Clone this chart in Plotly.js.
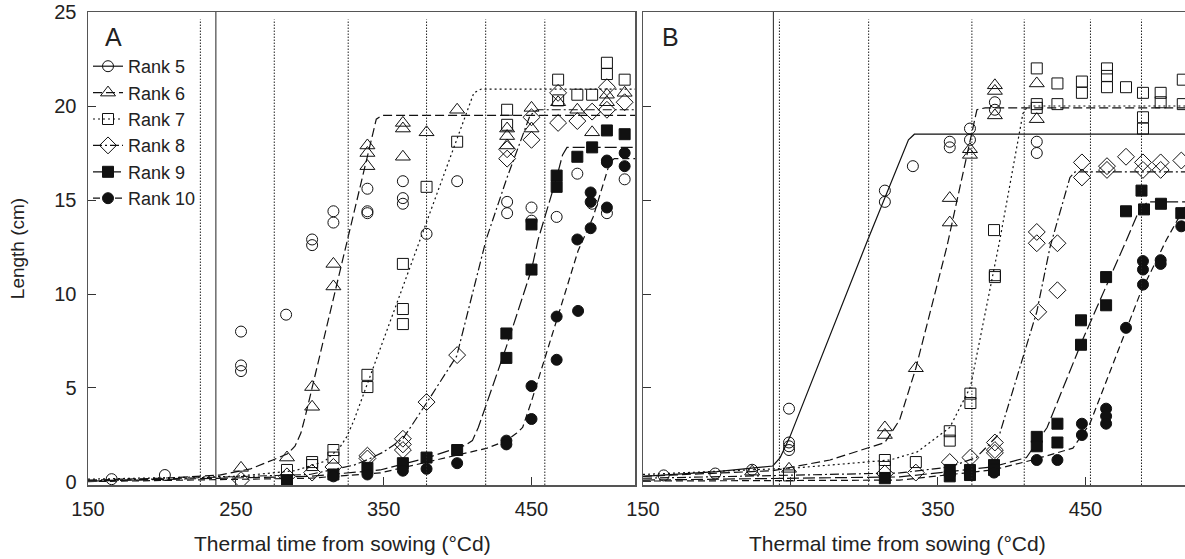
<!DOCTYPE html>
<html>
<head>
<meta charset="utf-8">
<script src="https://cdn.plot.ly/plotly-3.0.1.min.js"></script>
<style>html,body{margin:0;padding:0;background:#fff;}#chart{width:1185px;height:559px;}</style>
</head>
<body>
<div id="chart"></div>
<script>
// ---------- Data ----------
const rankNames = ['Rank 5','Rank 6','Rank 7','Rank 8','Rank 9','Rank 10'];
const xTicks = [150, 250, 350, 450];
const yTicks = [0, 5, 10, 15, 20, 25];
const xTitle = 'Thermal time from sowing (°Cd)';
const yTitle = 'Length (cm)';

// Panel A observations
const A5x = [166,202,253.5,253.5,253.5,284,301.6,301.6,316,316,339,339,339,363,363,363,379,399.7,433.5,433.5,450,450,467,481,491,501,513];
const A5y = [0.15,0.37,8.0,6.2,5.9,8.9,12.9,12.6,14.4,13.8,15.6,14.4,14.3,16.0,15.1,14.8,13.2,16.0,14.9,14.3,14.6,13.9,14.1,16.4,14.8,14.3,16.1];
const A6x = [253.5,284.6,301.6,301.6,316,316,339,339,339,363,363,363,379,399.7,433.5,433.5,433.5,450,450,468,481,491,501,501,513];
const A6y = [0.75,1.3,5.05,4.0,11.6,10.4,17.9,17.5,16.8,19.1,18.8,17.3,18.6,19.8,18.8,18.4,17.9,19.9,18.8,20.2,19.8,18.6,20.6,20.2,20.7];
const A7x = [284.6,301.6,301.6,316,316,339,339,363,363,363,379,399.7,433.5,433.5,468,468,481,491,501,501,513];
const A7y = [0.64,1.06,0.9,1.7,1.3,5.7,5.05,11.6,9.2,8.4,15.7,18.1,19.8,19.0,21.4,20.3,20.6,20.6,22.3,21.7,21.4];
const A8x = [253.5,284.6,301.6,316,339,339,363,363,363,379,399.7,433.5,433.5,450,450,468,468,481,491,501,501,513];
const A8y = [0.1,0.3,0.5,0.8,1.4,1.25,2.3,2.0,1.7,4.25,6.75,17.7,17.2,19.4,18.2,20.7,19.1,19.2,19.7,21.0,19.8,20.2];
const A9x = [284.6,316,339,363,379,399.7,433,433,450,450,467,467,481,491,501,513];
const A9y = [0.1,0.4,0.75,1.0,1.3,1.7,7.9,6.6,11.3,13.7,16.3,15.7,17.3,17.8,18.7,18.5];
const A10x = [316,339,363,379,399.7,433,433,450,450,467,467,481.5,481,490,490,490,501,501,501,513,513];
const A10y = [0.3,0.4,0.6,0.7,1.0,2.2,2.0,5.1,3.35,8.8,6.5,9.1,12.9,15.4,14.9,13.5,17.1,17.0,14.6,17.5,16.8];

// Panel A fitted curves
const cA6x = [150,200,239,260,275,285,290,294,297,345,349,520];
const cA6y = [0.1,0.2,0.37,0.7,1.17,1.5,1.9,2.6,3.5,19.3,19.5,19.5];
const cA7x = [150,250,290,310,320,325,330,411,416,520];
const cA7y = [0.15,0.3,0.6,1.1,1.8,2.4,3.3,20.7,20.9,20.9];
const cA8x = [150,300,330,339.5,350,363,379,399.4,419.3,433.5,449,454,520];
const cA8y = [0.05,0.4,0.9,1.2,1.6,2.3,4.2,6.7,12.9,16.2,19.5,19.8,19.8];
const cA9x = [150,300,347.6,380,405,410,414,433,450,454.5,467,471,474,520];
const cA9y = [0.05,0.3,0.64,1.3,1.95,2.2,2.9,7.2,11.3,12.9,16.2,17.4,17.8,17.8];
const cA10x = [150,300,347.6,420,433,440,444,450,467,481.5,491.7,503,506,520];
const cA10y = [0.02,0.2,0.48,1.8,2.2,2.6,2.9,4.3,8.6,12.3,14.1,17.0,17.2,17.2];

// Panel B observations
const B5x = [164,199,224,249,249,249,249,314,314,333,358,358,371.7,371.7,388.6,388.6,417,417];
const B5y = [0.35,0.45,0.65,3.9,2.1,1.9,1.7,15.5,14.9,16.8,18.1,17.8,18.8,18.2,20.2,19.8,18.1,17.5];
const B6x = [224,249,314,314,335,358,358,371.7,371.7,388.6,388.6,388.6,417,417];
const B6y = [0.55,0.7,2.9,2.5,6.05,15.1,13.8,17.7,17.4,21.1,20.8,19.5,21.2,19.3];
const B7x = [249,314,314,335,358,358,372,372,388.6,388.6,388,417,417,417,431,431,447.6,447.6,464.6,464.6,464.6,477.5,489,489,489,501,501,516,516];
const B7y = [0.35,1.17,0.8,1.06,2.7,2.2,4.7,4.2,11.0,10.9,13.4,22.0,20.1,19.9,21.2,20.1,21.3,20.7,22.0,21.6,21.0,21.0,20.7,19.4,18.8,20.7,20.2,21.4,20.1];
const B8x = [314,335,358,372,388.6,388.6,388.6,417,417,418,431,431,447.6,447.6,464.6,464.6,477.5,489,489,501,501,515];
const B8y = [0.45,0.5,1.06,1.3,2.1,1.7,1.55,13.3,12.7,9.05,12.7,10.2,17.0,16.2,16.8,16.6,17.3,17.0,16.6,17.0,16.6,17.1];
const B9x = [314,358,358,371.7,371.7,388,388,417,417,431,431,447,447,464,464,477.5,488,489.7,501.2,515];
const B9y = [0.2,0.64,0.3,0.64,0.37,0.9,0.64,2.4,1.9,3.1,2.1,8.6,7.3,10.9,9.4,14.4,15.5,14.5,14.8,14.3];
const B10x = [358,371.7,388,417,431,447.6,447.6,464,464,464,477.5,489,489,489,501,501,515];
const B10y = [0.4,0.4,0.5,1.17,1.17,3.1,2.5,3.9,3.5,3.1,8.2,11.75,11.3,10.5,11.8,11.6,13.6];

// Panel B fitted curves
const cB5x = [150,200,238,243,249.6,302.5,330,334,520];
const cB5y = [0.3,0.55,0.85,1.3,2.4,12.9,18.2,18.5,18.5];
const cB6x = [150,238,276.8,314,324,335,356,371.7,376.4,382,520];
const cB6y = [0.3,0.6,1.17,2.1,3.3,6.05,12.5,18.0,19.8,19.9,19.9];
const cB7x = [150,254,317.5,336,358,372,392,407.6,411,520];
const cB7y = [0.4,0.75,1.17,1.6,2.9,5.05,12.9,19.6,20.0,20.0];
const cB8x = [150,324,358,376,392,417,426,439.5,443,520];
const cB8y = [0.2,0.48,0.8,1.3,2.6,9.05,12.5,16.2,16.5,16.5];
const cB9x = [150,324,387,410,424,448,478,485.6,492,520];
const cB9y = [0.1,0.27,0.8,1.3,2.9,7.55,12.9,14.3,14.9,14.9];
const cB10x = [150,324,387,414,441.5,453,487,505,520];
const cB10y = [0.05,0.1,0.64,1.17,1.8,3.1,10.0,12.9,15.0];

// Reference vertical lines (thermal time)
const vA_dotted = [226, 276, 326, 379, 419, 459];
const vA_solid = [236.5];
const vB_dotted = [242.5, 303, 373, 408.5, 453.4, 488];
const vB_solid = [238.4];

// ---------- Styles ----------
const FONT = 'Liberation Sans, Arial, Helvetica, sans-serif';
const INK = '#111';
const TXT = '#222';
const sym = ['circle-open','triangle-up-open','square-open','diamond-open','square','circle'];
const msz = [11, 13, 11, 13, 11, 11];
const dashes = ['solid','9px,4px','2px,3px','9px,3px,2px,3px','12px,4px','7px,4px'];

const ptsA = [[A5x,A5y],[A6x,A6y],[A7x,A7y],[A8x,A8y],[A9x,A9y],[A10x,A10y]];
const ptsB = [[B5x,B5y],[B6x,B6y],[B7x,B7y],[B8x,B8y],[B9x,B9y],[B10x,B10y]];
const crvA = [null,[cA6x,cA6y],[cA7x,cA7y],[cA8x,cA8y],[cA9x,cA9y],[cA10x,cA10y]];
const crvB = [[cB5x,cB5y],[cB6x,cB6y],[cB7x,cB7y],[cB8x,cB8y],[cB9x,cB9y],[cB10x,cB10y]];

const traces = [];
function addPanel(pts, crv, xa, ya) {
  for (let i = 0; i < 6; i++) {
    if (crv[i]) {
      traces.push({x: crv[i][0], y: crv[i][1], xaxis: xa, yaxis: ya, mode: 'lines',
        line: {color: INK, width: 1.2, dash: dashes[i]}, showlegend: false, hoverinfo: 'skip'});
    }
  }
  for (let i = 0; i < 6; i++) {
    traces.push({x: pts[i][0], y: pts[i][1], xaxis: xa, yaxis: ya, mode: 'markers',
      marker: {symbol: sym[i], size: msz[i], color: INK, line: {color: INK, width: 1}},
      showlegend: false, name: rankNames[i]});
  }
}
addPanel(ptsA, crvA, 'x', 'y');
addPanel(ptsB, crvB, 'x2', 'y2');
// legend entries
for (let i = 0; i < 6; i++) {
  traces.push({x: [null], y: [null], xaxis: 'x', yaxis: 'y', mode: 'lines+markers', name: rankNames[i],
    marker: {symbol: sym[i], size: msz[i], color: INK, line: {color: INK, width: 1}},
    line: {color: INK, width: 1.2, dash: dashes[i]}, showlegend: true});
}

const shapes = [];
function vlines(vals, xref, yref, dotted) {
  vals.forEach(v => shapes.push({type: 'line', xref: xref, yref: yref, x0: v, x1: v,
    y0: -0.16, y1: dotted ? 24.6 : 25,
    line: {color: '#222', width: 1, dash: dotted ? '1.5px,1.5px' : 'solid'}}));
}
vlines(vA_dotted, 'x', 'y', true);
vlines(vA_solid, 'x', 'y', false);
vlines(vB_dotted, 'x2', 'y2', true);
vlines(vB_solid, 'x2', 'y2', false);

const W = 1185, H = 559;
const yDom = [1 - 485 / H, 1 - 12 / H];
const axBase = {showgrid: false, zeroline: false, ticks: 'inside', ticklen: 8, tickwidth: 1,
  tickcolor: '#333', showline: true, linecolor: '#555', linewidth: 1.5,
  tickfont: {family: FONT, size: 20, color: TXT}, automargin: false};

const layout = {
  width: W, height: H,
  margin: {l: 0, r: 0, t: 0, b: 0},
  paper_bgcolor: '#fff', plot_bgcolor: '#fff',
  font: {family: FONT, color: TXT},
  xaxis: Object.assign({}, axBase, {domain: [88 / W, 635 / W], range: [150, 520], anchor: 'y',
    tickvals: xTicks, ticktext: xTicks.map(String), mirror: true, ticklabelstandoff: 5}),
  yaxis: Object.assign({}, axBase, {domain: yDom, range: [-0.16, 25], anchor: 'x',
    tickvals: yTicks, ticktext: yTicks.map(String), mirror: true, ticklabelstandoff: 6,
    title: {text: yTitle, font: {family: FONT, size: 19, color: TXT}, standoff: 24}}),
  xaxis2: Object.assign({}, axBase, {domain: [643 / W, 1], range: [150, 517.5], anchor: 'y2',
    tickvals: xTicks, ticktext: xTicks.map(String), mirror: true, ticklabelstandoff: 5}),
  yaxis2: Object.assign({}, axBase, {domain: yDom, range: [-0.16, 25], anchor: 'x2',
    tickvals: yTicks, showticklabels: false, mirror: false}),
  showlegend: true,
  legend: {x: 88 / W, y: 1 - 48 / H, xanchor: 'left', yanchor: 'top', bgcolor: 'rgba(0,0,0,0)',
    borderwidth: 0, font: {family: FONT, size: 18, color: TXT}, tracegroupgap: 0, itemwidth: 30},
  annotations: [
    {xref: 'paper', yref: 'paper', x: 113 / W, y: 1 - 37 / H, text: 'A', showarrow: false,
      font: {family: FONT, size: 25, color: TXT}, xanchor: 'center', yanchor: 'middle'},
    {xref: 'paper', yref: 'paper', x: 670 / W, y: 1 - 37 / H, text: 'B', showarrow: false,
      font: {family: FONT, size: 25, color: TXT}, xanchor: 'center', yanchor: 'middle'},
    {xref: 'paper', yref: 'paper', x: 342 / W, y: 1 - 543 / H, text: xTitle, showarrow: false,
      font: {family: FONT, size: 21, color: TXT}, xanchor: 'center', yanchor: 'middle'},
    {xref: 'paper', yref: 'paper', x: 897 / W, y: 1 - 543 / H, text: xTitle, showarrow: false,
      font: {family: FONT, size: 21, color: TXT}, xanchor: 'center', yanchor: 'middle'}
  ],
  shapes: shapes
};

Plotly.newPlot('chart', traces, layout, {displayModeBar: false, staticPlot: true});
</script>
</body>
</html>
